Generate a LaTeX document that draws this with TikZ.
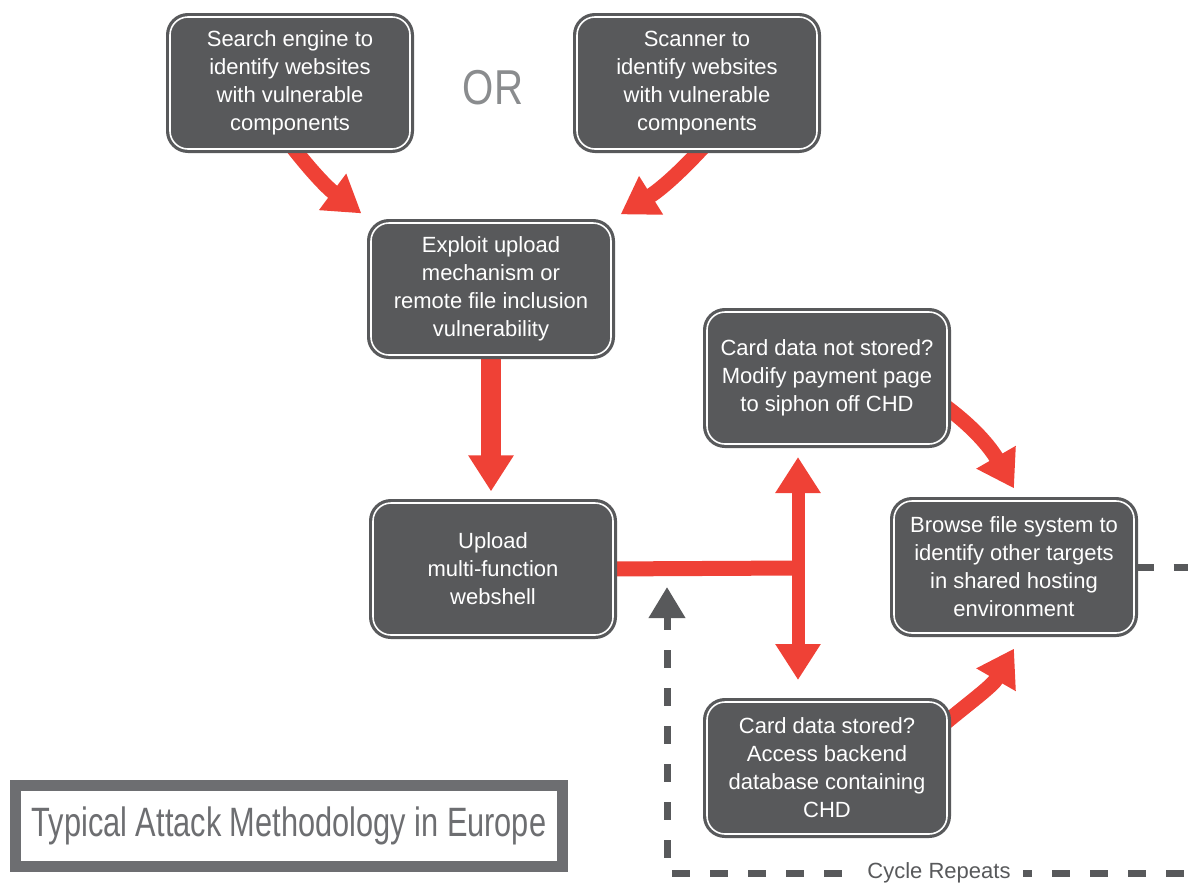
\documentclass[tikz,border=0pt]{standalone}
\usepackage{fontspec}
\setmainfont{Liberation Sans}
\newfontfamily\titlefont[FakeStretch=0.75]{Liberation Sans}
\newfontfamily\orfont[FakeStretch=0.82]{Liberation Sans}
\usetikzlibrary{arrows.meta,backgrounds}

\definecolor{boxgray}{HTML}{58595B}
\definecolor{attackred}{HTML}{EF4136}
\definecolor{framegray}{HTML}{6D6E71}
\definecolor{orgray}{HTML}{8A8C8E}

\begin{document}
\begin{tikzpicture}[x=.5pt, y=.5pt,
    bigarrow/.style={draw=attackred, line width=7.5pt, -{Triangle[length=18pt,width=21.5pt]}},
    loopline/.style={draw=boxgray, line width=3.5pt, dash pattern=on 9pt off 10pt}]

  \useasboundingbox (0,0) rectangle (1188,-884);
  \clip (0,0) rectangle (1188,-884);

  \begin{scope}[every node/.style={rectangle, rounded corners=9pt, fill=boxgray, draw=boxgray,
      double=white, double distance=.8pt, line width=1.6pt, text=white, align=center,
      minimum width=120pt, minimum height=66pt, font=\fontsize{11}{14}\selectfont}]
    \node (search)  at (290,-83)   {Search engine to\\identify websites\\with vulnerable\\components};
    \node (scanner) at (697,-83)   {Scanner to\\identify websites\\with vulnerable\\components};
    \node (exploit) at (491,-289)  {Exploit upload\\mechanism or\\remote file inclusion\\vulnerability};
    \node (upload)  at (493,-569)  {Upload\\multi-function\\webshell};
    \node (nostore) at (827,-378)  {Card data not stored?\\Modify payment page\\to siphon off CHD};
    \node (browse)  at (1014,-567) {Browse file system to\\identify other targets\\in shared hosting\\environment};
    \node (store)   at (827,-768)  {Card data stored?\\Access backend\\database containing\\CHD};
  \end{scope}

  \node[text=orgray, font=\orfont\fontsize{24.5}{28}\selectfont] (or) at (493,-88) {OR};

  \node[draw=framegray, line width=5.5pt, minimum width=273.5pt, minimum height=40.5pt,
    text=framegray, font=\titlefont\fontsize{20.5}{24}\selectfont] (title) at (289,-826)
    {Typical Attack Methodology in Europe};

  \coordinate (fork)     at (798,-568);
  \coordinate (forkup)   at (798,-457);
  \coordinate (forkdown) at (798,-680);
  \coordinate (looptip)    at (667,-587);
  \coordinate (loopcorner) at (667,-873);

  \begin{pgfonlayer}{background}
    \draw[bigarrow] ([shift={(-2pt,6pt)}]search.south) to[bend right=8] ([shift={(-4pt,4pt)}]exploit.north west);
    \draw[bigarrow] ([shift={(7pt,6pt)}]scanner.south) to[bend left=8] ([shift={(4pt,3.5pt)}]exploit.north east);
    \draw[bigarrow, line width=10pt] ([yshift=6pt]exploit.south) -- ([yshift=5pt]exploit.south |- upload.north);
    \draw[draw=attackred, line width=7.5pt] ([xshift=-6pt]upload.east) -- (fork);
    \draw[bigarrow, line width=6.5pt, {Triangle[length=18pt,width=21.5pt]}-{Triangle[length=18pt,width=21.5pt]}]
      (forkdown) -- (forkup);
    \draw[bigarrow] ([shift={(-6pt,-11pt)}]nostore.east) to[out=-35,in=120] ([yshift=5.5pt]browse.north);
    \draw[bigarrow] ([shift={(-6pt,19pt)}]store.east) to[out=40,in=-120] ([yshift=-7pt]browse.south);
  \end{pgfonlayer}

  % cycle back to the webshell
  \draw[loopline, -{Triangle[length=15.5pt,width=17.5pt]}]
    (browse.east) -- ++(80,0) |- (loopcorner) -- (looptip);
  \node[fill=white, text=boxgray, inner xsep=6pt, font=\fontsize{11}{13}\selectfont] (cycle)
    at (939,-873) {Cycle Repeats};

\end{tikzpicture}
\end{document}
